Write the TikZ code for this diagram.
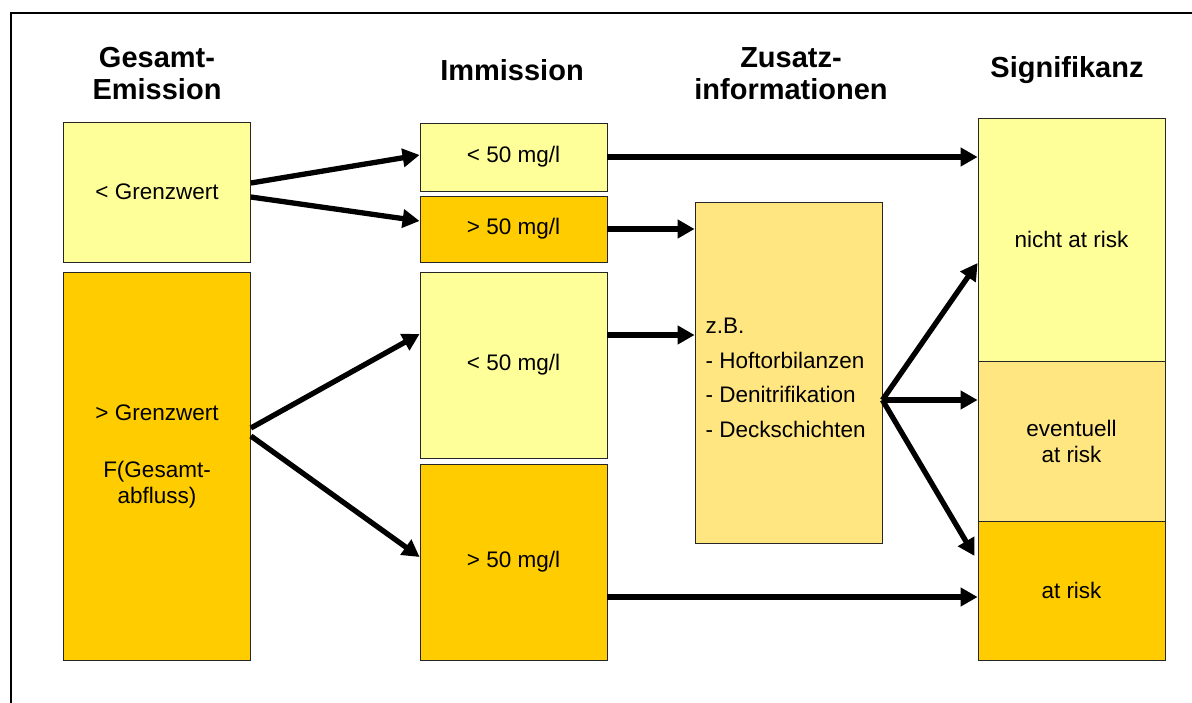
\documentclass[tikz,border=0pt]{standalone}
\usepackage{fontspec}
\setmainfont{Liberation Sans}
\usetikzlibrary{arrows.meta,calc}
\definecolor{paleyellow}{HTML}{FFFF99}
\definecolor{gold}{HTML}{FFCC00}
\definecolor{blendyellow}{HTML}{FFE680}

\begin{document}
\begin{tikzpicture}[x=1pt,y=-1pt,
  box/.style={draw=black!85, line width=0.8pt, minimum width=187pt, inner sep=0pt,
              align=center, font=\fontsize{22.5}{26}\selectfont},
  pale/.style={box, fill=paleyellow},
  deep/.style={box, fill=gold},
  mixed/.style={box, fill=blendyellow},
  head/.style={font=\bfseries\fontsize{29}{32}\selectfont, align=center},
  arr/.style={line width=5.3pt, -{Triangle[length=17pt,width=18pt]}},
]
\useasboundingbox (0,0) rectangle (1192,703);
% outer frame
\draw[line width=2pt] (1192,13) -- (11,13) -- (11,703);

% column headings
\node[head] (h1) at (157,74) {Gesamt-\\Emission};
\node[head] (h2) at (512,70) {Immission};
\node[head] (h3) at (791,74) {Zusatz-\\informationen};
\node[head] (h4) at (1067,70) {Signifikanz};

% Gesamt-Emission
\node[pale, minimum height=140pt] (lt) at (157,192) {< Grenzwert};
\node[deep, minimum height=388pt] (gt) at (157,466) {};
\node[font=\fontsize{22.5}{26}\selectfont, align=center] (gtl) at (157,456)
  {> Grenzwert\\[31pt]F(Gesamt-\\abfluss)};

% Immission
\node[pale, minimum height=68pt]  (c1) at (513.5,157) {< 50 mg/l};
\node[deep, minimum height=66pt]  (c2) at (513.5,229) {> 50 mg/l};
\node[pale, minimum height=186pt] (c3) at (513.5,365) {< 50 mg/l};
\node[deep, minimum height=196pt] (c4) at (513.5,562) {> 50 mg/l};

% Zusatzinformationen
\node[mixed, minimum height=341pt] (extra) at (788.5,372.5) {};
\node[anchor=west, align=left, font=\fontsize{22.5}{34.5}\selectfont] (extral) at (702,378)
  {z.B.\\- Hoftorbilanzen\\- Denitrifikation\\- Deckschichten};

% Signifikanz
\node[pale, minimum height=243pt]  (safe)  at (1071.5,239.5) {nicht at risk};
\node[mixed, minimum height=160pt] (maybe) at (1071.5,441) {eventuell\\at risk};
\node[deep, minimum height=139pt]  (risk)  at (1071.5,590.5) {at risk};

% connectors
\draw[arr] ([yshift=9pt]lt.east) -- ([yshift=2pt]c1.west);
\draw[arr] ([yshift=-5pt]lt.east) -- ([yshift=8pt]c2.west);
\draw[arr] ([yshift=38pt]gt.east) -- ([yshift=31pt]c3.west);
\draw[arr] ([yshift=30pt]gt.east) -- ([yshift=5pt]c4.west);

\draw[arr] (c1.east) -- (c1.east -| safe.west);
\draw[arr] (c2.east) -- (c2.east -| extra.west);
\draw[arr] ([yshift=30pt]c3.east) -- ([yshift=30pt]c3.east -| extra.west);
\draw[arr] ([yshift=-35pt]c4.east) -- ([yshift=-35pt]c4.east -| risk.west);

\coordinate (fork) at ([yshift=-27.5pt]extra.east);
\draw[arr] (fork) -- ([yshift=-23.5pt]safe.west);
\draw[arr] (fork) -- (fork -| maybe.west);
\draw[arr] (fork) -- ([yshift=34.5pt,xshift=-3pt]risk.west);
\end{tikzpicture}
\end{document}
